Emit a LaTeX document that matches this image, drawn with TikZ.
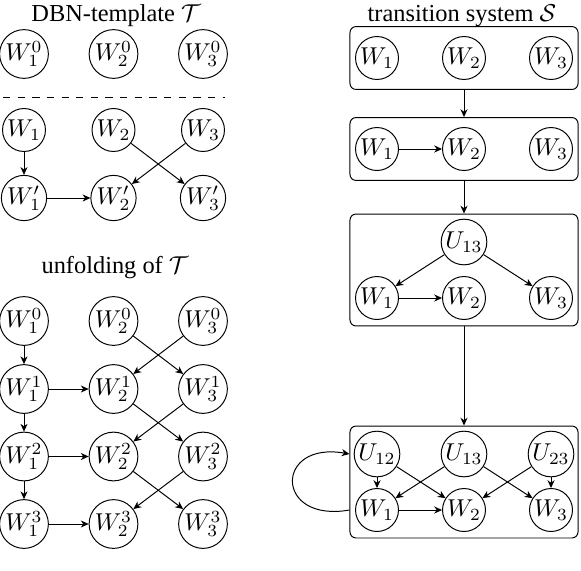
\documentclass[tikz,border=0pt]{standalone}
\usepackage[no-math]{fontspec}
\setmainfont{Liberation Serif}
\usetikzlibrary{arrows.meta}
\begin{document}
\begin{tikzpicture}[x=0.41pt,y=-0.41pt,
  var/.style={circle,draw,line width=0.4pt,minimum size=17.5pt,inner sep=0.5pt},
  sbox/.style={draw,rounded corners=2.5pt,minimum width=93.5pt,inner sep=0pt,line width=0.4pt},
  edge/.style={-{Stealth[length=3.2pt,width=2.9pt,inset=1pt]},line width=0.4pt},
  ttl/.style={anchor=base,inner sep=0pt}]
\useasboundingbox (0,0) rectangle (581,570);

% titles
\node[ttl] (title1) at (116,21) {DBN-template $\mathcal{T}$};
\node[ttl] (title2) at (115,273) {unfolding of $\mathcal{T}$};
\node[ttl] (title3) at (462,21) {transition system $\mathcal{S}$};

% DBN template
\foreach \i/\x in {1/24,2/113.5,3/203} {
  \node[var] (t0\i) at (\x,54) {$W_\i^0$};
  \node[var] (t1\i) at (\x,130) {$W_\i$};
  \node[var] (t2\i) at (\x,198) {$W_\i'$};
}
\coordinate (dl) at (3,97);
\coordinate (dr) at (225,97);
\draw[dashed,line width=0.4pt] (dl) -- (dr);
\draw[edge] (t11) -- (t21);
\draw[edge] (t21) -- (t22);
\draw[edge] (t12) -- (t23);
\draw[edge] (t13) -- (t22);

% unfolding
\foreach \t/\y in {0/321,1/389,2/456.5,3/524} {
  \foreach \i/\x in {1/24,2/113.5,3/203} {
    \node[var] (u\t\i) at (\x,\y) {$W_\i^\t$};
  }
}
\foreach \t/\n in {0/1,1/2,2/3} {
  \draw[edge] (u\t1) -- (u\n1);
  \draw[edge] (u\t2) -- (u\n3);
  \draw[edge] (u\t3) -- (u\n2);
}
\foreach \t in {1,2,3} \draw[edge] (u\t1) -- (u\t2);

% transition system boxes
\node[sbox,minimum height=25.8pt] (b1) at (464,58) {};
\node[sbox,minimum height=25.8pt] (b2) at (464,149) {};
\node[sbox,minimum height=45.9pt] (b3) at (464,270) {};
\node[sbox,minimum height=45.9pt] (b4) at (464,482) {};

\foreach \i/\x in {1/377,2/464,3/551} {
  \node[var] (s1\i) at (\x,58) {$W_\i$};
  \node[var] (s2\i) at (\x,149) {$W_\i$};
  \node[var] (s3\i) at (\x,298) {$W_\i$};
  \node[var] (s4\i) at (\x,510) {$W_\i$};
}
\node[var] (v313) at (464,242) {$U_{13}$};
\node[var] (v412) at (377,454) {$U_{12}$};
\node[var] (v413) at (464,454) {$U_{13}$};
\node[var] (v423) at (551,454) {$U_{23}$};

\draw[edge] (b1) -- (b2);
\draw[edge] (b2) -- (b3);
\draw[edge] (b3) -- (b4);

\draw[edge] (s21) -- (s22);

\draw[edge] (v313) -- (s31);
\draw[edge] (v313) -- (s33);
\draw[edge] (s31) -- (s32);

\draw[edge] (v412) -- (s41);
\draw[edge] (v412) -- (s42);
\draw[edge] (v413) -- (s41);
\draw[edge] (v413) -- (s43);
\draw[edge] (v423) -- (s42);
\draw[edge] (v423) -- (s43);
\draw[edge] (s41) -- (s42);

\coordinate (lpa) at (b4.west |- s41);
\coordinate (lpb) at (b4.west |- v412);
\draw[edge] (lpa) to[out=190,in=170,looseness=3.5] (lpb);
\end{tikzpicture}
\end{document}
